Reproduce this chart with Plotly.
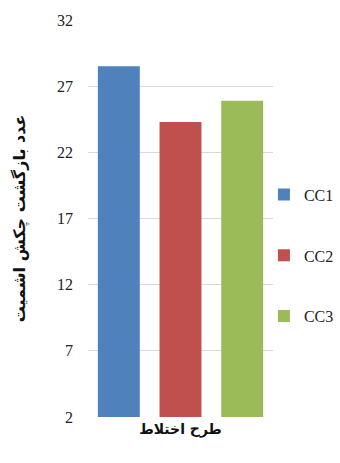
import plotly.graph_objects as go

# Schmidt hammer rebound number per mix design
category = ["طرح اختلاط"]
series_names = ["CC1", "CC2", "CC3"]
series_values = [28.5, 24.3, 25.9]
colors = ["#4F81BD", "#C0504D", "#9BBB59"]
y_ticks = [2, 7, 12, 17, 22, 27, 32]

fig = go.Figure()
for i, (name, val, col) in enumerate(zip(series_names, series_values, colors)):
    fig.add_trace(go.Bar(
        x=category, y=[val], name=name, marker_color=col,
        marker_line_width=0, legendgroup=name,
    ))

serif = "Liberation Serif"
fig.update_layout(
    width=340, height=463,
    margin=dict(l=88, r=67, t=20, b=46, autoexpand=False),
    paper_bgcolor="white", plot_bgcolor="white",
    barmode="group", bargap=0.0, bargroupgap=0.32,
    font=dict(family=serif, size=14, color="#222"),
    showlegend=True,
    legend=dict(
        x=0.951, y=0.603, xanchor="left", yanchor="top",
        font=dict(family=serif, size=16, color="#222"),
        tracegroupgap=37, itemwidth=30,
        bgcolor="rgba(0,0,0,0)",
    ),
    xaxis=dict(
        showticklabels=False, showgrid=False, zeroline=False, showline=False,
        title=dict(text="<b>طرح اختلاط</b>", standoff=7,
                   font=dict(family="DejaVu Sans", size=14, color="#111")),
    ),
    yaxis=dict(
        range=[2, 32], tickvals=y_ticks, ticktext=[str(t) for t in y_ticks],
        showgrid=True, gridcolor="#D9D9D9", gridwidth=1, zeroline=False,
        showline=False, ticks="", ticklabelstandoff=14,
        tickfont=dict(family=serif, size=16, color="#222"),
        title=dict(text="<b>عدد بازگشت چکش اشمیت</b>", standoff=27,
                   font=dict(family="DejaVu Sans", size=16, color="#111")),
    ),
)

fig.write_html("out.html")
